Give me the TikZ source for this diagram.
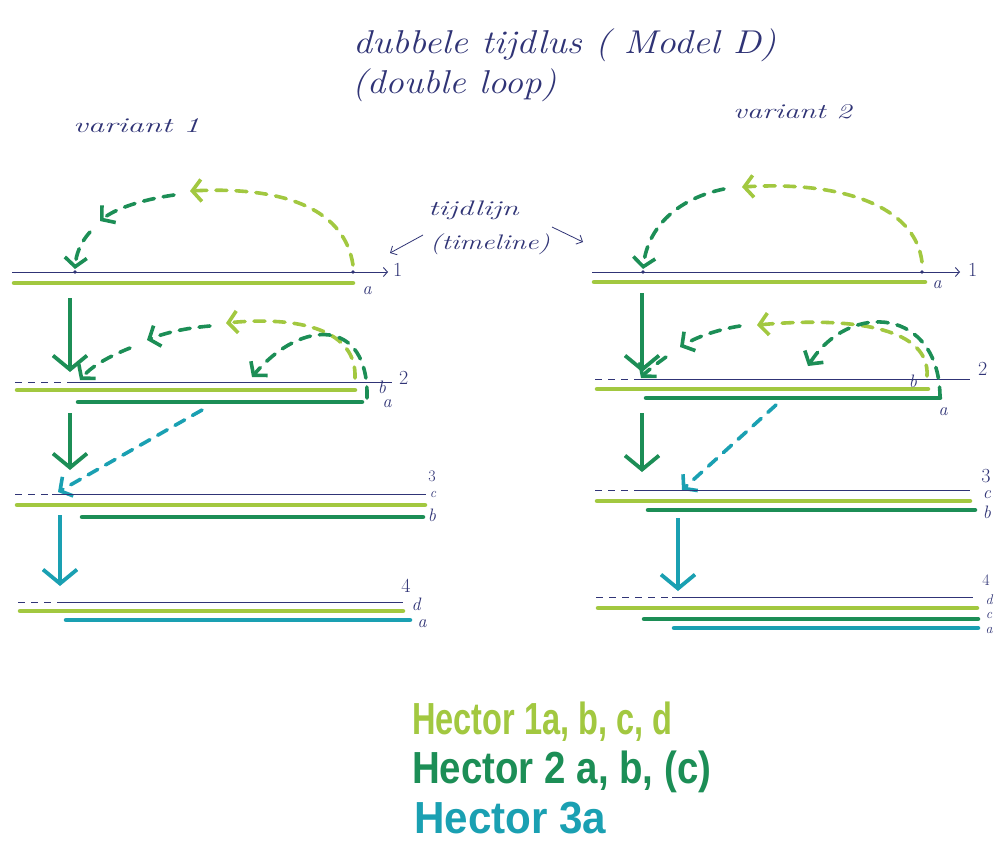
\documentclass[tikz,border=0pt]{standalone}
\usepackage{fontspec}
\usepackage{graphicx}
\newfontfamily\markerfont{Liberation Sans}
\usetikzlibrary{arrows.meta}

\definecolor{hlight}{RGB}{162,200,64}
\definecolor{hdark}{RGB}{28,142,86}
\definecolor{hteal}{RGB}{26,160,178}
\definecolor{ink}{RGB}{48,52,118}

\tikzset{
  timeline/.style={ink, line width=0.9pt},
  lead/.style={ink, line width=0.9pt, dash pattern=on 7pt off 6pt},
  bar/.style={line width=4.5pt, line cap=round},
  jump/.style={line width=3.6pt, line cap=round, dash pattern=on 11pt off 9pt},
  jumptip/.style={-{Straight Barb[length=9pt,width=22pt]}},
  droptip/.style={line width=3.8pt, -{Straight Barb[length=14pt,width=34pt]}},
  pointer/.style={ink, line width=0.8pt, -{Straight Barb[length=5pt,width=10pt]}},
  lbl/.style={ink, font=\itshape\fontsize{18}{18}\selectfont, inner sep=0pt},
  num/.style={ink, font=\fontsize{20}{20}\selectfont, inner sep=0pt},
  stacklbl/.style={ink, font=\itshape\fontsize{14}{14}\selectfont, inner sep=0pt},
  stacknum/.style={ink, font=\fontsize{16}{16}\selectfont, inner sep=0pt},
  hand/.style={ink, font=\itshape\fontsize{33}{36}\selectfont, inner sep=0pt, anchor=west},
  small/.style={ink, font=\itshape\fontsize{21}{22}\selectfont, inner sep=0pt, anchor=west},
  legend/.style={font=\markerfont\bfseries\fontsize{31}{31}\selectfont, inner sep=0pt, anchor=west},
}

\begin{document}
\begin{tikzpicture}[x=1pt,y=-1pt]
\useasboundingbox (0,0) rectangle (998,841);
\fill[white] (0,0) rectangle (998,841);

% ---------- headings ----------
\node[hand] (title) at (353,45) {\scalebox{1.15}[1]{dubbele tijdlus ( Model D)}};
\node[hand] (subtitle) at (352,85) {\scalebox{1.12}[1]{(double loop)}};
\node[small] (var1) at (73,126) {\scalebox{1.55}[1]{variant 1}};
\node[small] (var2) at (733,112) {\scalebox{1.45}[1]{variant 2}};
\node[small] (tl1) at (428,210) {\scalebox{1.5}[1]{tijdlijn}};
\node[small] (tl2) at (430,244) {\scalebox{1.35}[1]{(timeline)}};
\coordinate (pL) at (390,253);
\coordinate (pR) at (583,242);
\draw[pointer] (423,235) -- (pL);
\draw[pointer] (552,227) -- (pR);

% ================= variant 1 =================
% --- timeline 1 ---
\coordinate (A1s) at (12,272);
\coordinate (A1e) at (388,272);
\draw[timeline,-{Straight Barb[length=4pt,width=9pt]}] (A1s) -- (A1e);
\node[num, anchor=west] (A1n) at (393,270) {1};
\draw[bar,hlight] (14,283) -- (353,283);
\node[lbl] (A1a) at (367,291) {a};
\fill[ink] (353,272) circle (1.8) (75,272) circle (1.8);
\coordinate (A1src) at (353,265);
\coordinate (A1top) at (190,191);
\coordinate (A1mid) at (174,195);
\coordinate (A1hop) at (100,221);
\coordinate (A1low) at (90,232);
\coordinate (A1dst) at (75,269);
\draw[jump,hlight,jumptip] (A1src) .. controls (345,212) and (290,186) .. (A1top);
\draw[jump,hdark,jumptip] (A1mid) .. controls (140,200) and (115,209) .. (A1hop);
\draw[jump,hdark,jumptip] (A1low) .. controls (80,243) and (76,255) .. (A1dst);

% --- step 1 -> 2 ---
\coordinate (A12s) at (70,298);
\coordinate (A12e) at (70,372);
\draw[droptip,hdark] (A12s) -- (A12e);

% --- timeline 2 ---
\draw[lead] (15,382) -- (70,382);
\draw[timeline] (70,382) -- (392,382);
\node[num, anchor=west] (A2n) at (399,378) {2};
\draw[bar,hlight] (17,390) -- (355,390);
\draw[bar,hdark] (78,402) -- (362,402);
\node[lbl] (A2b) at (382,387) {b};
\node[lbl] (A2a) at (387,404) {a};
\coordinate (A2src) at (355,378);
\coordinate (A2top) at (226,323);
\coordinate (A2mid) at (210,326);
\coordinate (A2hop) at (147,340);
\coordinate (A2low) at (130,348);
\coordinate (A2dst) at (80,380);
\draw[jump,hlight,jumptip] (A2src) .. controls (357,330) and (300,316) .. (A2top);
\draw[jump,hdark,jumptip] (A2mid) .. controls (185,328) and (165,333) .. (A2hop);
\draw[jump,hdark,jumptip] (A2low) .. controls (105,358) and (90,368) .. (A2dst);
\coordinate (A2src2) at (367,398);
\coordinate (A2dst2) at (252,377);
\draw[jump,hdark,jumptip] (A2src2) .. controls (369,318) and (302,318) .. (A2dst2);

% --- step 2 -> 3 ---
\coordinate (A23s) at (70,413);
\coordinate (A23e) at (70,470);
\draw[droptip,hdark] (A23s) -- (A23e);
\coordinate (A23j) at (202,410);
\coordinate (A3dst) at (58,492);
\draw[jump,hteal,jumptip] (A23j) -- (A3dst);

% --- timeline 3 ---
\draw[lead] (15,494) -- (52,494);
\draw[timeline] (52,494) -- (426,494);
\draw[bar,hlight] (17,505) -- (425,505);
\draw[bar,hdark] (82,517) -- (423,517);
\node[stacknum] (A3n) at (432,476) {3};
\node[stacklbl] (A3c) at (433,494) {c};
\node[lbl] (A3b) at (432,515) {b};

% --- step 3 -> 4 ---
\coordinate (A34s) at (60,515);
\coordinate (A34e) at (60,586);
\draw[droptip,hteal] (A34s) -- (A34e);

% --- timeline 4 ---
\draw[lead] (18,602) -- (62,602);
\draw[timeline] (62,602) -- (403,602);
\draw[bar,hlight] (20,611) -- (403,611);
\draw[bar,hteal] (66,620) -- (410,620);
\node[num] (A4n) at (406,586) {4};
\node[lbl] (A4d) at (416,604) {d};
\node[lbl] (A4a) at (422,624) {a};

% ================= variant 2 =================
% --- timeline 1 ---
\coordinate (B1s) at (592,272);
\coordinate (B1e) at (960,272);
\draw[timeline,-{Straight Barb[length=4pt,width=9pt]}] (B1s) -- (B1e);
\node[num, anchor=west] (B1n) at (968,270) {1};
\draw[bar,hlight] (594,282) -- (925,282);
\node[lbl] (B1a) at (937,285) {a};
\fill[ink] (922,272) circle (1.8) (643,272) circle (1.8);
\coordinate (B1src) at (922,262);
\coordinate (B1top) at (742,187);
\coordinate (B1mid) at (724,189);
\coordinate (B1dst) at (643,269);
\draw[jump,hlight,jumptip] (B1src) .. controls (915,205) and (840,181) .. (B1top);
\draw[jump,hdark,jumptip] (B1mid) .. controls (680,198) and (648,225) .. (B1dst);

% --- step 1 -> 2 ---
\coordinate (B12s) at (642,293);
\coordinate (B12e) at (642,372);
\draw[droptip,hdark] (B12s) -- (B12e);

% --- timeline 2 ---
\draw[lead] (595,379) -- (640,379);
\draw[timeline] (640,379) -- (970,379);
\node[num, anchor=west] (B2n) at (978,369) {2};
\draw[bar,hlight] (597,389) -- (928,389);
\draw[bar,hdark] (646,398) -- (940,398);
\node[lbl] (B2b) at (913,381) {b};
\node[lbl] (B2a) at (943,412) {a};
\coordinate (B2src) at (927,376);
\coordinate (B2top) at (757,325);
\coordinate (B2mid) at (740,326);
\coordinate (B2hop) at (680,347);
\coordinate (B2low) at (666,357);
\coordinate (B2dst) at (641,378);
\draw[jump,hlight,jumptip] (B2src) .. controls (930,330) and (860,316) .. (B2top);
\draw[jump,hdark,jumptip] (B2mid) .. controls (715,330) and (695,338) .. (B2hop);
\draw[jump,hdark,jumptip] (B2low) .. controls (655,365) and (646,372) .. (B2dst);
\coordinate (B2src2) at (940,398);
\coordinate (B2dst2) at (808,366);
\draw[jump,hdark,jumptip] (B2src2) .. controls (940,308) and (850,300) .. (B2dst2);

% --- step 2 -> 3 ---
\coordinate (B23s) at (642,413);
\coordinate (B23e) at (642,472);
\draw[droptip,hdark] (B23s) -- (B23e);
\coordinate (B23j) at (776,405);
\coordinate (B3dst) at (682,490);
\draw[jump,hteal,jumptip] (B23j) -- (B3dst);

% --- timeline 3 ---
\draw[lead] (595,490) -- (640,490);
\draw[timeline] (640,490) -- (970,490);
\draw[bar,hlight] (597,501) -- (970,501);
\draw[bar,hdark] (648,510) -- (975,510);
\node[num] (B3n) at (986,476) {3};
\node[lbl] (B3c) at (987,495) {c};
\node[lbl] (B3b) at (987,512) {b};

% --- step 3 -> 4 ---
\coordinate (B34s) at (678,518);
\coordinate (B34e) at (678,591);
\draw[droptip,hteal] (B34s) -- (B34e);

% --- timeline 4 ---
\draw[lead] (596,597) -- (668,597);
\draw[timeline] (672,597) -- (973,597);
\draw[bar,hlight] (598,608) -- (977,608);
\draw[bar,hdark] (644,619) -- (978,619);
\draw[bar,hteal] (674,628) -- (978,628);
\node[stacknum] (B4n) at (986,580) {4};
\node[stacklbl] (B4d) at (989,600) {d};
\node[stacklbl] (B4c) at (989,615) {c};
\node[stacklbl] (B4a) at (989,630) {a};

% ================= legend =================
\node[legend, text=hlight] (leg1) at (412,722) {\scalebox{1.05}[1.45]{Hector 1a, b, c, d}};
\node[legend, text=hdark] (leg2) at (412,772) {\scalebox{1.24}[1.45]{Hector 2 a, b, (c)}};
\node[legend, text=hteal] (leg3) at (414,818) {\scalebox{1.36}[1.45]{Hector 3a}};

\end{tikzpicture}
\end{document}
